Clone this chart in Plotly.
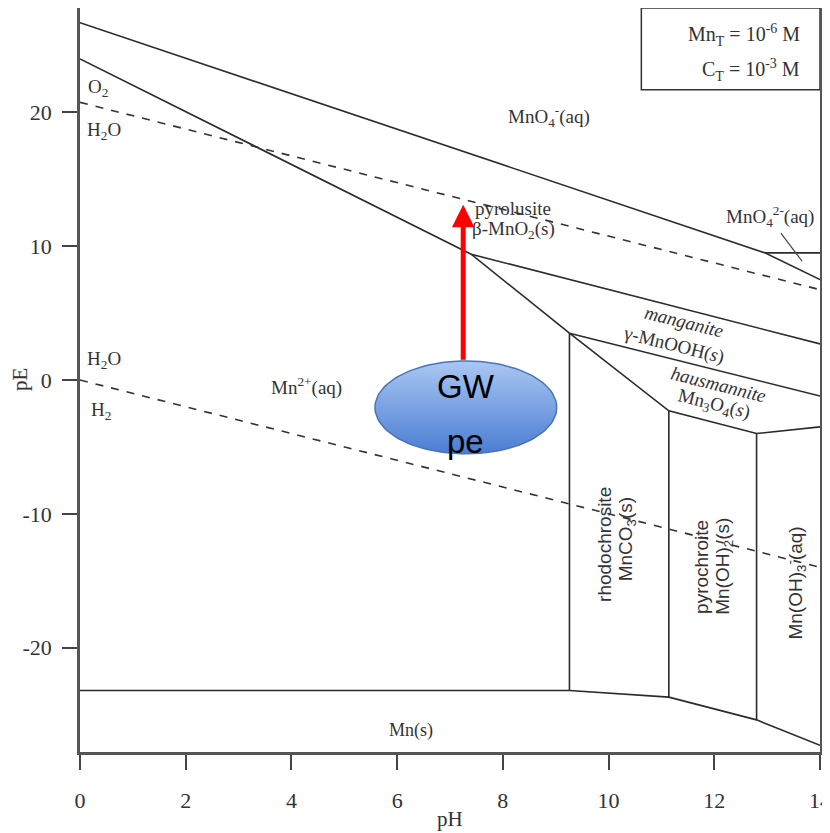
import numpy as np
import plotly.graph_objects as go

# ---- boundary data (pH, pE) ----
mno4_pyro_ph = [0, 12.96]
mno4_pyro_pe = [26.7, 9.5]
mno42_pyro_ph = [12.96, 14]
mno42_pyro_pe = [9.5, 7.5]
mno4_mno42_ph = [12.96, 14]
mno4_mno42_pe = [9.5, 9.5]
mn2_pyro_ph = [0, 7.40]
mn2_pyro_pe = [24.0, 9.4]
mn2_mangan_ph = [7.40, 9.26]
mn2_mangan_pe = [9.4, 3.5]
pyro_mangan_ph = [7.40, 14]
pyro_mangan_pe = [9.4, 2.7]
mangan_haus_ph = [9.26, 14]
mangan_haus_pe = [3.5, -1.2]
haus_lower_ph = [9.26, 11.14, 12.8, 14]
haus_lower_pe = [3.5, -2.3, -4.0, -3.5]
rhodo_left_ph = [9.26, 9.26]
rhodo_left_pe = [3.5, -23.2]
pyroch_left_ph = [11.14, 11.14]
pyroch_left_pe = [-2.3, -23.7]
mnoh3_left_ph = [12.8, 12.8]
mnoh3_left_pe = [-4.0, -25.4]
mns_ph = [0, 9.26, 11.14, 12.8, 14]
mns_pe = [-23.2, -23.2, -23.7, -25.4, -27.3]
mno42_pointer_ph = [13.26, 13.66]
mno42_pointer_pe = [10.97, 8.88]

# water stability lines (dashed)
o2_h2o_ph = [0, 14]
o2_h2o_pe = [20.75, 6.75]
h2o_h2_ph = [0, 14]
h2o_h2_pe = [0.0, -14.0]

x_ticks = [0, 2, 4, 6, 8, 10, 12, 14]
x_ticktext = ["0", "2", "4", "6", "8", "10", "12", "14"]
y_ticks = [-20, -10, 0, 10, 20]
y_ticktext = ["-20", "-10", "0", "10", "20"]

# GW pe marker
gw_ph = 7.30
gw_pe_center = -2.05
gw_rx_ph = 1.72
gw_ry_pe = 3.47
arrow_tip_pe = 13.1
arrow_tail_pe = 1.4

LINE = "#2b2b2b"
fig = go.Figure()

solid = [
    (mno4_pyro_ph, mno4_pyro_pe), (mno42_pyro_ph, mno42_pyro_pe),
    (mno4_mno42_ph, mno4_mno42_pe), (mn2_pyro_ph, mn2_pyro_pe),
    (mn2_mangan_ph, mn2_mangan_pe), (pyro_mangan_ph, pyro_mangan_pe),
    (mangan_haus_ph, mangan_haus_pe), (haus_lower_ph, haus_lower_pe),
    (rhodo_left_ph, rhodo_left_pe), (pyroch_left_ph, pyroch_left_pe),
    (mnoh3_left_ph, mnoh3_left_pe), (mns_ph, mns_pe),
]
for xs, ys in solid:
    fig.add_trace(go.Scatter(x=xs, y=ys, mode="lines",
                             line=dict(color=LINE, width=1.6),
                             showlegend=False, hoverinfo="skip"))
fig.add_trace(go.Scatter(x=mno42_pointer_ph, y=mno42_pointer_pe, mode="lines",
                         line=dict(color="#444", width=1.2),
                         showlegend=False, hoverinfo="skip"))
for xs, ys in [(o2_h2o_ph, o2_h2o_pe), (h2o_h2_ph, h2o_h2_pe)]:
    fig.add_trace(go.Scatter(x=xs, y=ys, mode="lines",
                             line=dict(color="#333", width=1.6, dash="8px,8px"),
                             showlegend=False, hoverinfo="skip"))

# ellipse (GW pe) with vertical gradient
t = np.linspace(0, 2 * np.pi, 121)
fig.add_trace(go.Scatter(
    x=gw_ph + gw_rx_ph * np.cos(t), y=gw_pe_center + gw_ry_pe * np.sin(t),
    mode="lines", fill="toself", line=dict(color="#4a74b8", width=1.5),
    fillgradient=dict(type="vertical",
                      colorscale=[[0, "#4a7dd2"], [1, "#aac7f3"]]),
    showlegend=False, hoverinfo="skip"))

serif = "Liberation Serif"
narrow = "Liberation Sans Narrow, Liberation Sans"
TXT = "#333"
labels = [
    (8.88, 19.7, "MnO<sub>4</sub><sup>-</sup>(aq)", 0, 19, serif),
    (8.20, 12.8, "pyrolusite", 0, 19, serif),
    (8.20, 11.2, "β-MnO<sub>2</sub>(s)", 0, 19, serif),
    (13.05, 12.2, "MnO<sub>4</sub><sup>2-</sup>(aq)", 0, 19, serif),
    (11.42, 4.4, "<i>manganite</i>", 14, 19, serif),
    (11.23, 2.6, "γ-MnOOH(<i>s</i>)", 14, 19, serif),
    (12.08, -0.3, "<i>hausmannite</i>", 14, 19, serif),
    (12.00, -1.9, "Mn<sub>3</sub>O<sub>4</sub>(<i>s</i>)", 14, 19, serif),
    (4.29, -0.45, "Mn<sup>2+</sup>(aq)", 0, 19, serif),
    (0.34, 21.8, "O<sub>2</sub>", 0, 19, serif),
    (0.46, 18.6, "H<sub>2</sub>O", 0, 19, serif),
    (0.46, 1.5, "H<sub>2</sub>O", 0, 19, serif),
    (0.40, -2.3, "H<sub>2</sub>", 0, 19, serif),
    (9.92, -12.3, "rhodochrosite", -90, 19, narrow),
    (10.35, -11.9, "MnCO<sub>3</sub>(s)", -90, 19, narrow),
    (11.76, -14.0, "pyrochroite", -90, 19, narrow),
    (12.18, -13.9, "Mn(OH)<sub>2</sub>(s)", -90, 19, narrow),
    (13.53, -15.2, "Mn(OH)<sub>3</sub><sup>-</sup>(aq)", -90, 19, narrow),
    (6.26, -26.2, "Mn(s)", 0, 18, serif),
]
for x, y, txt, ang, sz, fam in labels:
    fig.add_annotation(x=x, y=y, text=txt, showarrow=False, textangle=ang,
                       font=dict(family=fam, size=sz, color=TXT))

# concentration box
fig.add_shape(type="rect", xref="x", yref="y", x0=10.62, x1=14,
              y0=21.7, y1=27.8, line=dict(color="#333", width=1.5),
              fillcolor="white", layer="above")
fig.add_annotation(x=13.66, y=25.8, xanchor="right", showarrow=False,
                   text="Mn<sub>T</sub> = 10<sup>-6</sup> M",
                   font=dict(family=serif, size=20, color=TXT))
fig.add_annotation(x=13.66, y=23.2, xanchor="right", showarrow=False,
                   text="C<sub>T</sub> = 10<sup>-3</sup> M",
                   font=dict(family=serif, size=20, color=TXT))

# red arrow
fig.add_annotation(x=gw_ph - 0.05, y=arrow_tip_pe, ax=gw_ph - 0.05, ay=arrow_tail_pe,
                   xref="x", yref="y", axref="x", ayref="y", text="",
                   showarrow=True, arrowhead=2, arrowsize=0.9, arrowwidth=5,
                   arrowcolor="#ff0000")
fig.add_annotation(x=gw_ph, y=-0.45, text="GW", showarrow=False,
                   font=dict(family="Liberation Sans", size=33, color="black"))
fig.add_annotation(x=gw_ph, y=-4.6, text="pe", showarrow=False,
                   font=dict(family="Liberation Sans", size=33, color="black"))

# axis titles
fig.add_annotation(xref="paper", yref="paper", x=-0.081, y=0.5, text="pE",
                   textangle=-90, showarrow=False, xanchor="center", yanchor="middle",
                   font=dict(family=serif, size=21, color=TXT))
fig.add_annotation(xref="paper", yref="paper", x=0.5, y=-0.0905, text="pH",
                   showarrow=False, xanchor="center", yanchor="middle",
                   font=dict(family=serif, size=21, color=TXT))

axis_common = dict(showgrid=False, zeroline=False, showline=True, mirror=True,
                   linecolor="#555", linewidth=2.5, ticks="outside", ticklen=15,
                   tickwidth=2, tickcolor="#444", automargin=False,
                   ticklabeloverflow="allow",
                   tickfont=dict(family=serif, size=22, color=TXT))
fig.update_layout(
    width=822, height=825,
    margin=dict(l=72, r=10, t=0, b=81),
    paper_bgcolor="white", plot_bgcolor="white",
    xaxis=dict(range=[0, 14], tickvals=x_ticks, ticktext=x_ticktext,
               ticklabelstandoff=12, **axis_common),
    yaxis=dict(range=[-27.8, 27.8], tickvals=y_ticks, ticktext=y_ticktext,
               ticklabelstandoff=6, **axis_common),
)
fig.write_html("out.html")
